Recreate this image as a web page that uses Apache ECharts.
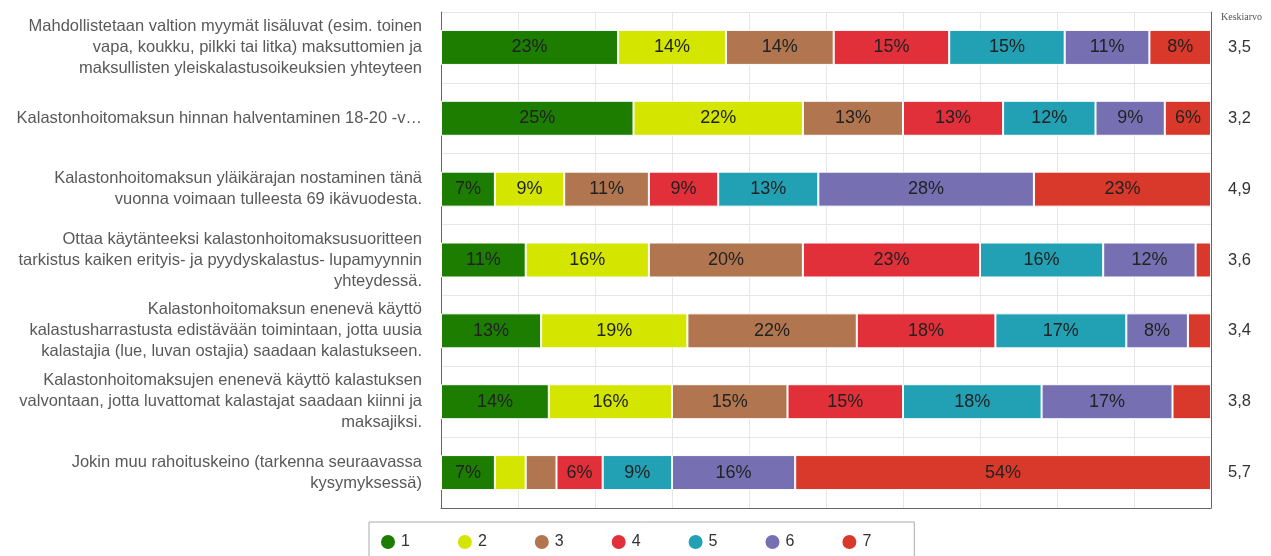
<!DOCTYPE html>
<html>
<head>
<meta charset="utf-8">
<script src="https://cdn.jsdelivr.net/npm/echarts@6/dist/echarts.min.js"></script>
<style>
html,body{margin:0;padding:0;background:#fff;}
#chart{width:1271px;height:556px;}
</style>
</head>
<body>
<div id="chart"></div>
<script>
const categories = [
  "Mahdollistetaan valtion myymät lisäluvat (esim. toinen\nvapa, koukku, pilkki tai litka) maksuttomien ja\nmaksullisten yleiskalastusoikeuksien yhteyteen",
  "Kalastonhoitomaksun hinnan halventaminen 18-20 -v…",
  "Kalastonhoitomaksun yläikärajan nostaminen tänä\nvuonna voimaan tulleesta 69 ikävuodesta.",
  "Ottaa käytänteeksi kalastonhoitomaksusuoritteen\ntarkistus kaiken erityis- ja pyydyskalastus- lupamyynnin\nyhteydessä.",
  "Kalastonhoitomaksun enenevä käyttö\nkalastusharrastusta edistävään toimintaan, jotta uusia\nkalastajia (lue, luvan ostajia) saadaan kalastukseen.",
  "Kalastonhoitomaksujen enenevä käyttö kalastuksen\nvalvontaan, jotta luvattomat kalastajat saadaan kiinni ja\nmaksajiksi.",
  "Jokin muu rahoituskeino (tarkenna seuraavassa\nkysymyksessä)"
];
const averages = ["3,5", "3,2", "4,9", "3,6", "3,4", "3,8", "5,7"];
const averageTitle = "Keskiarvo";
const seriesNames = ["1", "2", "3", "4", "5", "6", "7"];
const s1 = [23, 25, 7, 11, 13, 14, 7];
const s2 = [14, 22, 9, 16, 19, 16, 4];
const s3 = [14, 13, 11, 20, 22, 15, 4];
const s4 = [15, 13, 9, 23, 18, 15, 6];
const s5 = [15, 12, 13, 16, 17, 18, 9];
const s6 = [11, 9, 28, 12, 8, 17, 16];
const s7 = [8, 6, 23, 2, 3, 5, 54];
const seriesValues = [s1, s2, s3, s4, s5, s6, s7];
const colors = ["#1c7d00", "#d4e600", "#b1764f", "#e2303a", "#22a1b4", "#7670b3", "#d8392b"];

const chart = echarts.init(document.getElementById('chart'), null, {renderer: 'canvas'});
const font = "'Liberation Sans', Arial, sans-serif";

const series = seriesNames.map((name, i) => ({
  name: name,
  type: 'bar',
  stack: 'total',
  barWidth: 35,
  data: seriesValues[i],
  itemStyle: {color: colors[i], borderColor: '#ffffff', borderWidth: 1},
  label: {
    show: true,
    position: 'inside',
    fontFamily: font,
    fontSize: 18,
    color: '#222222',
    textBorderWidth: 0,
    textShadowBlur: 0,
    formatter: p => (p.value >= 6 ? p.value + '%' : '')
  },
  emphasis: {disabled: true}
}));

chart.setOption({
  animation: false,
  color: colors,
  title: {
    text: averageTitle,
    left: 1221,
    top: 12,
    padding: 0,
    textStyle: {fontFamily: "'Liberation Serif', serif", fontSize: 10, fontWeight: 'normal', color: '#555555'}
  },
  grid: {left: 441, right: 60, top: 12, bottom: 48, containLabel: false},
  legend: {
    data: seriesNames,
    left: 369,
    top: 522,
    icon: 'circle',
    itemWidth: 16,
    itemHeight: 16,
    itemGap: 46,
    padding: [11, 43, 11, 10],
    borderColor: '#aaaaaa',
    borderWidth: 1,
    textStyle: {fontFamily: font, fontSize: 16, color: '#333333'}
  },
  xAxis: {
    type: 'value',
    min: 0,
    max: 100,
    interval: 10,
    axisLabel: {show: false},
    axisTick: {show: false},
    axisLine: {show: true, lineStyle: {color: '#666666', width: 1}},
    splitLine: {show: true, lineStyle: {color: '#e6e6e6', width: 1}}
  },
  yAxis: [
    {
      type: 'category',
      inverse: true,
      data: categories,
      axisTick: {show: false},
      axisLine: {show: true, lineStyle: {color: '#666666', width: 1}},
      splitLine: {show: true, lineStyle: {color: '#e6e6e6', width: 1}},
      axisLabel: {
        fontFamily: font,
        fontSize: 16.5,
        lineHeight: 21,
        color: '#595959',
        margin: 19,
        align: 'right'
      }
    },
    {
      type: 'category',
      inverse: true,
      position: 'right',
      data: averages,
      axisTick: {show: false},
      axisLine: {show: true, lineStyle: {color: '#666666', width: 1}},
      splitLine: {show: false},
      axisLabel: {
        fontFamily: font,
        fontSize: 16.5,
        color: '#333333',
        margin: 17,
        align: 'left'
      }
    }
  ],
  series: series
});
</script>
</body>
</html>
